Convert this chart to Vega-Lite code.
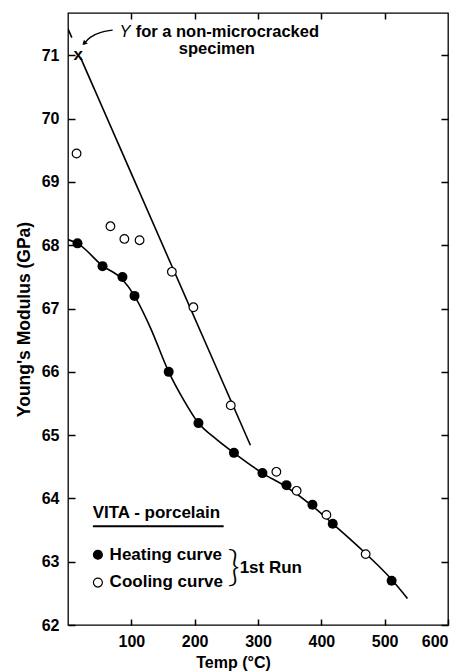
{
  "$schema": "https://vega.github.io/schema/vega-lite/v6.json",
  "width": 380,
  "height": 612,
  "autosize": {"type": "none"},
  "padding": {"left": 68, "top": 13, "right": 19, "bottom": 47},
  "background": "white",
  "config": {
    "view": {"stroke": "black", "strokeWidth": 1.3},
    "axis": {
      "domain": false,
      "grid": false,
      "tickColor": "black",
      "tickWidth": 1.5,
      "labelColor": "black",
      "titleColor": "black",
      "labelFont": "Liberation Sans",
      "labelFontSize": 16,
      "labelFontWeight": "bold",
      "titleFont": "Liberation Sans",
      "titleFontWeight": "bold"
    },
    "text": {"font": "Liberation Sans", "color": "black"}
  },
  "datasets": {
    "heating": [
      {"temp": 15, "E": 68.03}, {"temp": 54.5, "E": 67.67}, {"temp": 86, "E": 67.5},
      {"temp": 105, "E": 67.2}, {"temp": 159, "E": 66.0}, {"temp": 206, "E": 65.19},
      {"temp": 262, "E": 64.72}, {"temp": 307, "E": 64.4}, {"temp": 345, "E": 64.21},
      {"temp": 386, "E": 63.9}, {"temp": 418, "E": 63.6}, {"temp": 511, "E": 62.7}
    ],
    "cooling": [
      {"temp": 13.5, "E": 69.45}, {"temp": 67, "E": 68.3}, {"temp": 89, "E": 68.1},
      {"temp": 113, "E": 68.08}, {"temp": 164, "E": 67.58}, {"temp": 198, "E": 67.02},
      {"temp": 257, "E": 65.47}, {"temp": 329, "E": 64.42}, {"temp": 361, "E": 64.12},
      {"temp": 408, "E": 63.74}, {"temp": 470, "E": 63.12}
    ],
    "heatcurve": [
      {"temp": 0, "E": 68.09}, {"temp": 15, "E": 68.03}, {"temp": 54, "E": 67.68},
      {"temp": 86, "E": 67.46}, {"temp": 105, "E": 67.2}, {"temp": 130, "E": 66.7},
      {"temp": 159, "E": 66.0}, {"temp": 183, "E": 65.55}, {"temp": 206, "E": 65.19},
      {"temp": 235, "E": 64.93}, {"temp": 262, "E": 64.72}, {"temp": 307, "E": 64.4},
      {"temp": 345, "E": 64.18}, {"temp": 386, "E": 63.88}, {"temp": 418, "E": 63.6},
      {"temp": 470, "E": 63.13}, {"temp": 511, "E": 62.72}, {"temp": 536, "E": 62.42}
    ],
    "coolline": [
      {"seg": "a", "temp": 0, "E": 71.42}, {"seg": "a", "temp": 6, "E": 71.28},
      {"seg": "b", "temp": 20, "E": 70.96}, {"seg": "b", "temp": 288, "E": 64.84}
    ],
    "arrow": [
      {"temp": 70.5, "E": 71.4}, {"temp": 50, "E": 71.37}, {"temp": 34, "E": 71.29}, {"temp": 25, "E": 71.18}
    ],
    "arrowhead": [{"temp": 25.5, "E": 71.19}],
    "boldtext": [
      {"temp": 38.9, "E": 63.69, "label": "VITA - porcelain"},
      {"temp": 65.7, "E": 63.03, "label": "Heating curve"},
      {"temp": 65.7, "E": 62.6, "label": "Cooling curve"},
      {"temp": 271, "E": 62.82, "label": "1st Run"}
    ],
    "annotation": [
      {"temp": 106.8, "E": 71.29, "label": "for a non-microcracked"},
      {"temp": 175, "E": 71.02, "label": "specimen"}
    ],
    "italictext": [{"temp": 81.5, "E": 71.29, "label": "Y"}],
    "marker": [{"temp": 16, "E": 71.0, "label": "x"}],
    "brace": [{"temp": 252, "E": 62.9, "label": "}"}],
    "underline": [{"temp": 39.3, "temp2": 245.8, "E": 63.56}],
    "legendpts": [
      {"temp": 47.2, "E": 63.11, "kind": "Heating"},
      {"temp": 47.2, "E": 62.67, "kind": "Cooling"}
    ]
  },
  "layer": [
    {
      "data": {"name": "heatcurve"},
      "mark": {"type": "line", "interpolate": "monotone", "color": "black", "strokeWidth": 1.6, "clip": true},
      "encoding": {
        "x": {"field": "temp", "type": "quantitative", "scale": {"domain": [0, 600], "nice": false}, "axis": null},
        "y": {"field": "E", "type": "quantitative", "scale": {"domain": [62, 71.67], "nice": false, "zero": false}, "axis": null}
      }
    },
    {
      "data": {"name": "coolline"},
      "mark": {"type": "line", "color": "black", "strokeWidth": 1.6, "clip": true},
      "encoding": {
        "x": {"field": "temp", "type": "quantitative", "axis": null},
        "y": {"field": "E", "type": "quantitative", "axis": null},
        "detail": {"field": "seg"}
      }
    },
    {
      "data": {"name": "heating"},
      "mark": {"type": "point", "shape": "circle", "filled": true, "color": "black", "size": 100, "opacity": 1},
      "encoding": {
        "x": {
          "field": "temp", "type": "quantitative",
          "axis": {
            "orient": "bottom", "values": [100, 200, 300, 400, 500, 600],
            "offset": -6, "tickSize": 6, "labelPadding": 8,
            "title": "Temp (°C)", "titleFontSize": 16,
            "titleX": 165, "titleY": 48, "titleAlign": "center", "titleBaseline": "alphabetic"
          }
        },
        "y": {
          "field": "E", "type": "quantitative",
          "axis": {
            "orient": "left", "values": [62, 63, 64, 65, 66, 67, 68, 69, 70, 71],
            "offset": -7, "tickSize": 7, "labelPadding": 9,
            "title": "Young's Modulus (GPa)", "titleFontSize": 17.5,
            "titleX": -46, "titleBaseline": "alphabetic"
          }
        }
      }
    },
    {
      "data": {"name": "cooling"},
      "mark": {"type": "point", "shape": "circle", "filled": true, "fill": "white", "stroke": "black", "strokeWidth": 1.2, "size": 75, "opacity": 1},
      "encoding": {
        "x": {
          "field": "temp", "type": "quantitative",
          "axis": {"orient": "top", "values": [100, 200, 300, 400, 500], "offset": -6, "tickSize": 6, "labels": false, "title": null}
        },
        "y": {
          "field": "E", "type": "quantitative",
          "axis": {"orient": "right", "values": [62, 63, 64, 65, 66, 67, 68, 69, 70, 71], "offset": -7, "tickSize": 7, "labels": false, "title": null}
        }
      }
    },
    {
      "data": {"name": "arrow"},
      "mark": {"type": "line", "interpolate": "basis", "color": "black", "strokeWidth": 1.3},
      "encoding": {
        "x": {"field": "temp", "type": "quantitative", "axis": null},
        "y": {"field": "E", "type": "quantitative", "axis": null}
      }
    },
    {
      "data": {"name": "arrowhead"},
      "mark": {"type": "point", "shape": "triangle-up", "filled": true, "color": "black", "size": 30, "angle": 225, "opacity": 1},
      "encoding": {
        "x": {"field": "temp", "type": "quantitative", "axis": null},
        "y": {"field": "E", "type": "quantitative", "axis": null}
      }
    },
    {
      "data": {"name": "boldtext"},
      "mark": {"type": "text", "align": "left", "baseline": "alphabetic", "fontSize": 17, "fontWeight": "bold", "color": "black"},
      "encoding": {
        "x": {"field": "temp", "type": "quantitative", "axis": null},
        "y": {"field": "E", "type": "quantitative", "axis": null},
        "text": {"field": "label"}
      }
    },
    {
      "data": {"name": "annotation"},
      "mark": {"type": "text", "align": "left", "baseline": "alphabetic", "fontSize": 16.5, "fontWeight": "bold", "color": "black"},
      "encoding": {
        "x": {"field": "temp", "type": "quantitative", "axis": null},
        "y": {"field": "E", "type": "quantitative", "axis": null},
        "text": {"field": "label"}
      }
    },
    {
      "data": {"name": "italictext"},
      "mark": {"type": "text", "align": "left", "baseline": "alphabetic", "fontSize": 16.5, "fontStyle": "italic", "color": "black"},
      "encoding": {
        "x": {"field": "temp", "type": "quantitative", "axis": null},
        "y": {"field": "E", "type": "quantitative", "axis": null},
        "text": {"field": "label"}
      }
    },
    {
      "data": {"name": "marker"},
      "mark": {"type": "text", "align": "center", "baseline": "middle", "fontSize": 17, "fontWeight": "bold", "color": "black"},
      "encoding": {
        "x": {"field": "temp", "type": "quantitative", "axis": null},
        "y": {"field": "E", "type": "quantitative", "axis": null},
        "text": {"field": "label"}
      }
    },
    {
      "data": {"name": "brace"},
      "mark": {"type": "text", "align": "left", "baseline": "middle", "fontSize": 42, "font": "Lato", "fontWeight": 300, "color": "black"},
      "encoding": {
        "x": {"field": "temp", "type": "quantitative", "axis": null},
        "y": {"field": "E", "type": "quantitative", "axis": null},
        "text": {"field": "label"}
      }
    },
    {
      "data": {"name": "underline"},
      "mark": {"type": "rule", "color": "black", "strokeWidth": 2},
      "encoding": {
        "x": {"field": "temp", "type": "quantitative", "axis": null},
        "x2": {"field": "temp2"},
        "y": {"field": "E", "type": "quantitative", "axis": null}
      }
    },
    {
      "data": {"name": "legendpts"},
      "mark": {"type": "point", "shape": "circle", "filled": true, "stroke": "black", "strokeWidth": 1.2, "size": 80, "opacity": 1},
      "encoding": {
        "x": {"field": "temp", "type": "quantitative", "axis": null},
        "y": {"field": "E", "type": "quantitative", "axis": null},
        "fill": {"field": "kind", "type": "nominal", "scale": {"domain": ["Heating", "Cooling"], "range": ["black", "white"]}, "legend": null}
      }
    }
  ],
  "resolve": {"axis": {"x": "independent", "y": "independent"}}
}
